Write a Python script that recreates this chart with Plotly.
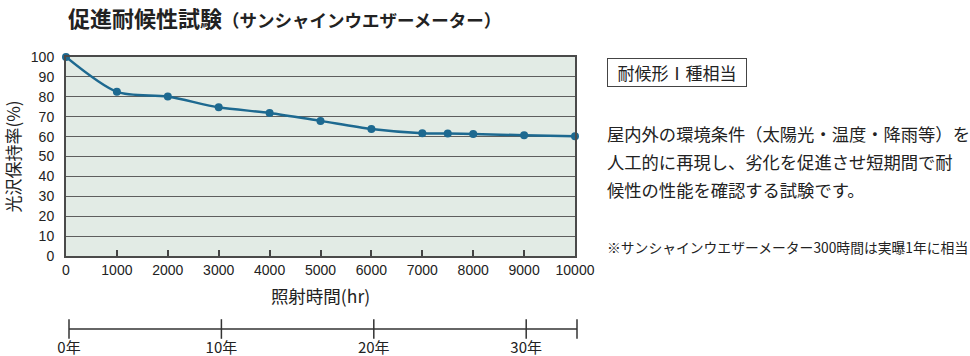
import plotly.graph_objects as go

hours = [0, 1000, 2000, 3000, 4000, 5000, 6000, 7000, 7500, 8000, 9000, 10000]
retention = [100, 82.5, 80.1, 74.7, 71.9, 67.9, 63.8, 61.7, 61.6, 61.3, 60.7, 60.2]
x_ticks = [0, 1000, 2000, 3000, 4000, 5000, 6000, 7000, 8000, 9000, 10000]
x_labels = [str(v) for v in x_ticks]
y_ticks = list(range(0, 101, 10))
year_ticks = [0, 10, 20, 30]
year_labels = ["0年", "10年", "20年", "30年"]
year_end = 10000 / 300

W, H = 970, 356
L, R, T, B = 60, 392, 57, 10
pw = W - L - R
ph = H - T - B

def px_x(x):
    return (x - L) / pw

def px_y(y):
    return (H - B - y) / ph

FONT = "Liberation Sans, Arial, Noto Sans CJK JP, sans-serif"
JFONT = "Noto Sans CJK JP, sans-serif"
LINE = "#1d6990"

fig = go.Figure()
fig.add_trace(go.Scatter(
    x=hours, y=retention, mode="lines+markers",
    line=dict(color=LINE, width=2.5, shape="spline", smoothing=0.8),
    marker=dict(color=LINE, size=8),
    xaxis="x", yaxis="y", showlegend=False, cliponaxis=False,
))

# year timeline
fig.add_trace(go.Scatter(
    x=year_ticks + [year_end], y=[0] * (len(year_ticks) + 1),
    mode="lines+markers",
    line=dict(color="#333333", width=1.5),
    marker=dict(symbol="line-ns", size=14, line=dict(color="#333333", width=1.5)),
    xaxis="x2", yaxis="y2", showlegend=False, cliponaxis=False, hoverinfo="skip",
))

# plot background for main panel only
fig.add_shape(type="rect", xref="x domain", yref="y domain", x0=0, x1=1, y0=0, y1=1,
              fillcolor="#e2ebe5", line=dict(width=0), layer="below")

fig.update_layout(
    width=W, height=H,
    margin=dict(l=L, r=R, t=T, b=B, autoexpand=False),
    paper_bgcolor="white",
    plot_bgcolor="rgba(0,0,0,0)",
    font=dict(family=FONT, size=13, color="#222222"),
    xaxis=dict(
        domain=[px_x(66), px_x(575)], range=[0, 10000], tickvals=x_ticks, ticktext=x_labels,
        ticks="inside", ticklen=6, tickcolor="#444444", tickwidth=1.5,
        showgrid=False, zeroline=False,
        showline=True, linecolor="#4a4a4a", linewidth=2, mirror=True,
        tickfont=dict(size=14, family=FONT),
        title=dict(text="照射時間(hr)", font=dict(size=17.5, family=JFONT), standoff=14),
        anchor="y",
    ),
    yaxis=dict(
        domain=[px_y(256), 1], range=[0, 100], tickvals=y_ticks,
        showgrid=True, gridcolor="#5e5e5e", gridwidth=1.3,
        zeroline=False, ticks="", ticklabelstandoff=7,
        showline=True, linecolor="#4a4a4a", linewidth=2, mirror=True,
        tickfont=dict(size=14, family=FONT),
        title=dict(text="光沢保持率(%)", font=dict(size=17, family=JFONT), standoff=6),
        anchor="x",
    ),
    xaxis2=dict(
        domain=[px_x(69), px_x(577)], range=[0, year_end], tickvals=year_ticks,
        ticktext=year_labels, showgrid=False, zeroline=False, showline=False,
        ticks="", tickfont=dict(size=15, family=JFONT), anchor="y2",
        ticklabelstandoff=0,
    ),
    yaxis2=dict(
        domain=[px_y(337), px_y(321)], range=[-1, 1], visible=False, anchor="x2",
    ),
)

# Title
fig.add_annotation(
    xref="paper", yref="paper", x=px_x(66), y=px_y(17), xanchor="left", yanchor="middle",
    text="<b><span style='font-size:22px'>促進耐候性試験</span>"
         "<span style='font-size:17.5px'>（サンシャインウエザーメーター）</span></b>",
    showarrow=False, font=dict(family=JFONT, color="#222222"),
)

# Box label
fig.add_annotation(
    xref="paper", yref="paper", x=px_x(607), y=px_y(72), xanchor="left", yanchor="middle",
    text="耐候形Ⅰ種相当", showarrow=False, width=130, height=19, align="center",
    font=dict(family=JFONT, size=17, color="#222222"),
    bordercolor="#444444", borderwidth=1, borderpad=4, bgcolor="white",
)

lines = [
    ("屋内外の環境条件（太陽光・温度・降雨等）を", 133),
    ("人工的に再現し、劣化を促進させ短期間で耐", 161),
    ("候性の性能を確認する試験です。", 189),
]
for txt, yy in lines:
    fig.add_annotation(
        xref="paper", yref="paper", x=px_x(605), y=px_y(yy), xanchor="left", yanchor="middle",
        text=txt, showarrow=False, font=dict(family=JFONT, size=17.3, color="#222222"),
    )

fig.add_annotation(
    xref="paper", yref="paper", x=px_x(605), y=px_y(247), xanchor="left", yanchor="middle",
    text="※サンシャインウエザーメーター300時間は実曝1年に相当", showarrow=False,
    font=dict(family=JFONT, size=13.8, color="#222222"),
)

fig.write_html("out.html", config={"displayModeBar": False},
               post_script="document.body.style.margin='0';")
